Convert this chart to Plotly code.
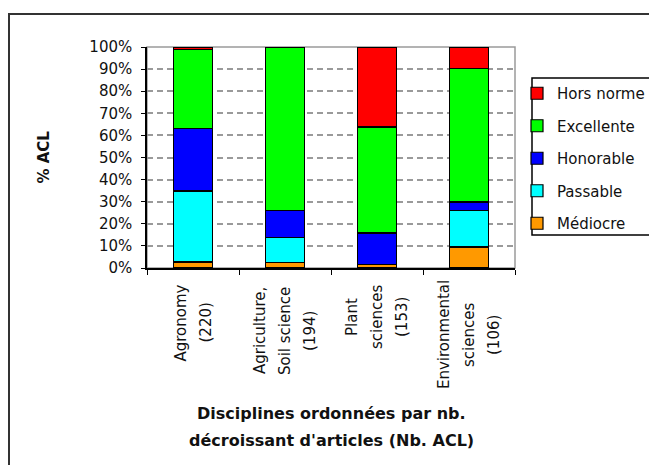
import plotly.graph_objects as go

# ---- data -------------------------------------------------------------
categories = ["Agronomy", "Agriculture, Soil science", "Plant sciences", "Environmental sciences"]
category_lines = [
    ["Agronomy", "(220)"],
    ["Agriculture,", "Soil science", "(194)"],
    ["Plant", "sciences", "(153)"],
    ["Environmental", "sciences", "(106)"],
]
series_names = ["Médiocre", "Passable", "Honorable", "Excellente", "Hors norme"]
mediocre = [2.7, 2.4, 1.6, 9.5]
passable = [32.1, 11.4, 0.0, 16.6]
honorable = [28.4, 12.4, 14.2, 3.8]
excellente = [35.7, 73.8, 48.0, 60.3]
hors_norme = [1.1, 0.0, 36.2, 9.8]
y_ticks = [0, 10, 20, 30, 40, 50, 60, 70, 80, 90, 100]
y_tick_labels = ["0%", "10%", "20%", "30%", "40%", "50%", "60%", "70%", "80%", "90%", "100%"]

# ---- page geometry ----------------------------------------------------
W, H = 649, 465
PL, PR, PT, PB = 147, 515, 47, 268  # plot area in pixels


def px_x(p):
    return (p - PL) / (PR - PL)


def px_y(p):
    return (PB - p) / (PB - PT)


FONT = "DejaVu Sans"
INK = "#111111"

colors = ["#FF9900", "#00FFFF", "#0000FF", "#00FF00", "#FF0000"]
series = [mediocre, passable, honorable, excellente, hors_norme]

fig = go.Figure()
n_series = len(series_names)
for k, (name, vals, col) in enumerate(zip(series_names, series, colors)):
    fig.add_trace(go.Bar(
        x=categories, y=vals, name=name, legendgroup=name,
        legendrank=n_series - k,  # top of the stack listed first
        marker=dict(color=col, line=dict(color="black", width=1.2)),
        hoverinfo="skip",
    ))

fig.update_layout(
    width=W, height=H,
    margin=dict(l=PL, r=W - PR, t=PT, b=H - PB, autoexpand=False),
    barmode="stack", bargap=0.575,
    plot_bgcolor="white", paper_bgcolor="white",
    font=dict(family=FONT, size=15, color=INK),
    showlegend=True,
    legend=dict(
        x=px_x(517), xanchor="left", y=px_y(77), yanchor="top",
        traceorder="grouped", tracegroupgap=10,
        bgcolor="rgba(0,0,0,0)", borderwidth=0,
        font=dict(family=FONT, size=15, color=INK),
    ),
)

fig.update_yaxes(
    range=[0, 100], tickvals=y_ticks, ticktext=y_tick_labels,
    ticks="outside", ticklen=4, tickcolor="black", tickwidth=1.2,
    showline=True, linecolor="black", linewidth=1.5,
    showgrid=True, gridcolor="#9a9a9a", gridwidth=1.5, griddash="6px,4px",
    zeroline=False, ticklabelstandoff=6,
    tickfont=dict(family=FONT, size=15, color=INK),
)
fig.update_xaxes(
    type="category", range=[-0.5, 3.5],
    ticks="outside", tickson="boundaries", ticklen=5, tickcolor="black", tickwidth=1.2,
    showticklabels=False, showline=True, linecolor="black", linewidth=1.5,
    showgrid=False, zeroline=False,
)

shapes = [
    # plot-area frame (top and right sides show in grey)
    dict(type="rect", xref="paper", yref="paper", x0=0, y0=0, x1=1, y1=1,
         line=dict(color="#9a9a9a", width=1.5), layer="below"),
    # outer chart frame
    dict(type="rect", xref="paper", yref="paper",
         x0=px_x(9), y0=px_y(485), x1=px_x(670), y1=px_y(14),
         line=dict(color="#333333", width=2)),
    # legend box
    dict(type="rect", xref="paper", yref="paper",
         x0=px_x(532), y0=px_y(235), x1=px_x(670), y1=px_y(78),
         line=dict(color="black", width=1.5)),
]

annotations = []
# rotated, centre-aligned category labels
label_centres = [323, 331, 317, 335]
for cat, lines, yc in zip(categories, category_lines, label_centres):
    n = len(lines)
    for i, line in enumerate(lines):
        annotations.append(dict(
            x=cat, xref="x", y=px_y(yc), yref="paper",
            xshift=(i - (n - 1) / 2) * 25,
            text=line, textangle=-90, showarrow=False,
            xanchor="center", yanchor="middle",
            font=dict(family=FONT, size=15, color=INK),
        ))

# axis titles
annotations.append(dict(
    x=px_x(43), xref="paper", y=0.5, yref="paper", text="<b>% ACL</b>",
    textangle=-90, showarrow=False, xanchor="center", yanchor="middle",
    font=dict(family=FONT, size=15, color=INK),
))
for text, yc in [("Disciplines ordonnées par nb.", 413), ("décroissant d'articles (Nb. ACL)", 440)]:
    annotations.append(dict(
        x=0.5, xref="paper", y=px_y(yc), yref="paper", text="<b>" + text + "</b>",
        showarrow=False, xanchor="center", yanchor="middle",
        font=dict(family=FONT, size=16, color=INK),
    ))

fig.update_layout(shapes=shapes, annotations=annotations)

fig.write_html("out.html")
